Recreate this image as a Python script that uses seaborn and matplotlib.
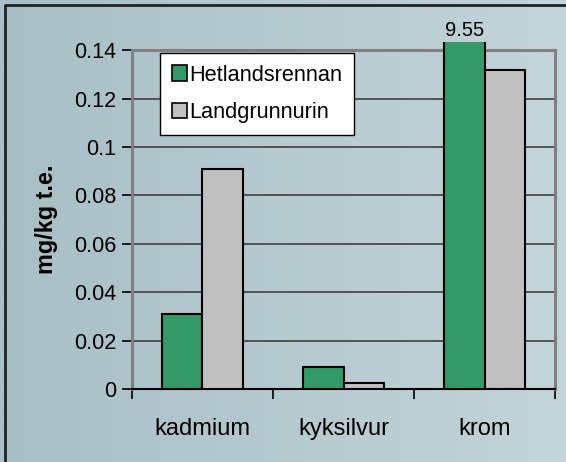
import numpy as np
import pandas as pd
import matplotlib
matplotlib.use("Agg")
import matplotlib.pyplot as plt
import seaborn as sns
from matplotlib.transforms import Bbox, TransformedBbox
from matplotlib.colors import LinearSegmentedColormap

categories = ["kadmium", "kyksilvur", "krom"]
series_names = ["Hetlandsrennan", "Landgrunnurin"]
hetlandsrennan = [0.031, 0.009, 9.55]
landgrunnurin = [0.091, 0.0026, 0.132]
yticks = [0, 0.02, 0.04, 0.06, 0.08, 0.1, 0.12, 0.14]
ytick_labels = ["0", "0.02", "0.04", "0.06", "0.08", "0.1", "0.12", "0.14"]
ylabel = "mg/kg t.e."
overflow_label = "9.55"

df = pd.DataFrame({
    "cat": categories * 2,
    "val": hetlandsrennan + landgrunnurin,
    "series": [series_names[0]] * 3 + [series_names[1]] * 3,
})

sns.set_theme(style="white")
plt.rcParams["font.family"] = ["Liberation Sans", "DejaVu Sans"]
plt.rcParams["text.color"] = "black"
plt.rcParams["axes.labelcolor"] = "black"
plt.rcParams["xtick.color"] = "black"
plt.rcParams["ytick.color"] = "black"

fig = plt.figure(figsize=(5.66, 4.62), dpi=100)

# background gradient
bg = fig.add_axes([0, 0, 1, 1], zorder=-10)
grad = np.linspace(0, 1, 256).reshape(1, -1)
cmap = LinearSegmentedColormap.from_list("bg", ["#a7bfc5", "#c3d4da"])
bg.imshow(grad, aspect="auto", cmap=cmap, extent=[0, 1, 0, 1])
bg.set_xlim(0, 1); bg.set_ylim(0, 1)
bg.axis("off")
bg.plot([0.009, 0.009, 1.0], [0.0, 0.989, 0.989], color="#222222", lw=2,
        transform=bg.transAxes, clip_on=False)

ax = fig.add_axes([0.233, 0.158, 0.748, 0.733])
ax.set_facecolor("none")

sns.barplot(data=df, x="cat", y="val", hue="series",
            palette=["#339966", "#c0c0c0"], width=0.575,
            edgecolor="black", linewidth=1.5, ax=ax, zorder=3,
            saturation=1)

ax.set_ylim(0, 0.14)
ax.set_xlim(-0.5, 2.5)

clip = TransformedBbox(Bbox([[0, 0], [1, 1.025]]), ax.transAxes)
for p in ax.patches:
    p.set_clip_box(clip)

for y in yticks[1:]:
    ax.axhline(y, color="#4a4a4a", lw=1.3, zorder=1)

ax.set_yticks(yticks)
ax.set_yticklabels(ytick_labels, fontsize=15.6, color="black")
ax.set_xticks(range(len(categories)))
ax.set_xticklabels(categories, fontsize=17, color="black")
ax.tick_params(axis="x", length=0, pad=21, colors="black")
ax.set_xticks([-0.5, 0.5, 1.5, 2.5], minor=True)
ax.tick_params(axis="x", which="minor", length=7, width=1.2, direction="out",
               color="black", bottom=True)
ax.tick_params(axis="y", length=7, width=1.2, direction="out", left=True,
               color="black", pad=4)
ax.set_xlabel("")
ax.set_ylabel(ylabel, fontsize=16.8, fontweight="bold", labelpad=12,
              color="black")

for side in ["top", "right", "left"]:
    ax.spines[side].set_color("#808080")
    ax.spines[side].set_linewidth(2.2)
ax.spines["bottom"].set_color("black")
ax.spines["bottom"].set_linewidth(1.5)

xg = 2 - 0.575 / 4
ax.text(xg, 1.03, overflow_label, transform=ax.get_xaxis_transform(),
        ha="center", va="bottom", fontsize=14.5, clip_on=False, color="black")

leg = ax.legend(loc="upper left", bbox_to_anchor=(0.066, 0.993),
                borderaxespad=0, frameon=True, fancybox=False,
                fontsize=15.7, handlelength=0.7, handleheight=0.7,
                handletextpad=0.1, labelspacing=0.75, borderpad=0.55,
                title=None)
leg.get_frame().set_edgecolor("black")
leg.get_frame().set_linewidth(1.0)
leg.get_frame().set_facecolor("white")
leg.get_frame().set_alpha(1)
leg.set_zorder(5)
for t in leg.get_texts():
    t.set_color("black")
for h in leg.legend_handles:
    h.set_edgecolor("black")
    h.set_linewidth(1.2)

fig.savefig("out.png", dpi=100)
